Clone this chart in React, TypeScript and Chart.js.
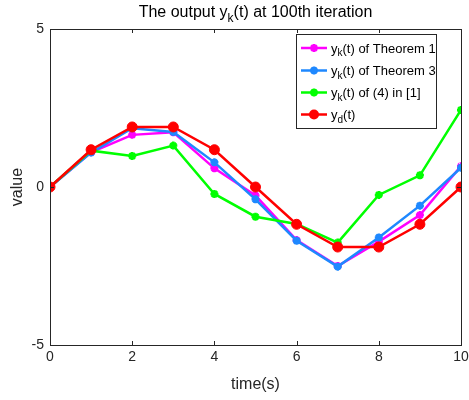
import React, { useEffect, useRef } from "react";
import { Chart, registerables } from "chart.js";
Chart.register(...registerables);

const timeSteps = [0, 1, 2, 3, 4, 5, 6, 7, 8, 9, 10];
const theorem1 = [0, 1.1, 1.65, 1.73, 0.59, -0.27, -1.68, -2.5, -1.73, -0.89, 0.66];
const theorem3 = [0, 1.09, 1.86, 1.74, 0.78, -0.39, -1.7, -2.52, -1.6, -0.59, 0.61];
const method4 = [0, 1.15, 0.98, 1.31, -0.22, -0.94, -1.17, -1.76, -0.25, 0.37, 2.44];
const desired = [0, 1.18, 1.9, 1.9, 1.18, 0, -1.18, -1.9, -1.9, -1.18, 0];
const seriesLabels = ["y_k(t) of Theorem 1", "y_k(t) of Theorem 3", "y_k(t) of (4) in [1]", "y_d(t)"];
const seriesColors = ["#FF00FF", "#1E88FF", "#00FF00", "#FF0000"];
const titleText = "The output y_k(t) at 100th iteration";
const xTitle = "time(s)";
const yTitle = "value";
const xTickValues = [0, 2, 4, 6, 8, 10];
const yTickValues = [-5, 0, 5];

const FONT = "'Liberation Sans', Arial, Helvetica, sans-serif";
const AXIS_COLOR = "#262626";

function parseRich(text: string) {
  const parts: { t: string; sub: boolean }[] = [];
  let i = 0;
  let buf = "";
  while (i < text.length) {
    if (text[i] === "_" && i + 1 < text.length) {
      if (buf) parts.push({ t: buf, sub: false });
      buf = "";
      parts.push({ t: text[i + 1], sub: true });
      i += 2;
    } else {
      buf += text[i];
      i++;
    }
  }
  if (buf) parts.push({ t: buf, sub: false });
  return parts;
}

function drawRich(ctx: CanvasRenderingContext2D, text: string, x: number, y: number, size: number, align: "left" | "center", color: string) {
  const parts = parseRich(text);
  const subSize = Math.round(size * 0.75);
  let total = 0;
  for (const p of parts) {
    ctx.font = `${p.sub ? subSize : size}px ${FONT}`;
    total += ctx.measureText(p.t).width;
  }
  let cx = align === "center" ? x - total / 2 : x;
  ctx.fillStyle = color;
  ctx.textAlign = "left";
  ctx.textBaseline = "alphabetic";
  for (const p of parts) {
    ctx.font = `${p.sub ? subSize : size}px ${FONT}`;
    ctx.fillText(p.t, cx, p.sub ? y + size * 0.3 : y);
    cx += ctx.measureText(p.t).width;
  }
}

function drawStar(ctx: CanvasRenderingContext2D, x: number, y: number, r: number, color: string) {
  ctx.save();
  ctx.strokeStyle = color;
  ctx.lineWidth = 2.5;
  ctx.beginPath();
  ctx.moveTo(x - r, y); ctx.lineTo(x + r, y);
  ctx.moveTo(x, y - r); ctx.lineTo(x, y + r);
  const d = r * 0.707;
  ctx.moveTo(x - d, y - d); ctx.lineTo(x + d, y + d);
  ctx.moveTo(x - d, y + d); ctx.lineTo(x + d, y - d);
  ctx.stroke();
  ctx.restore();
}

const decorPlugin = {
  id: "decor",
  afterDraw(chart: any) {
    const ctx: CanvasRenderingContext2D = chart.ctx;
    const { left, right, top, bottom } = chart.chartArea;
    const xs = chart.scales.x;
    const ys = chart.scales.y;
    ctx.save();
    ctx.strokeStyle = AXIS_COLOR;
    ctx.lineWidth = 1;
    ctx.strokeRect(Math.round(left) + 0.5, Math.round(top) + 0.5, Math.round(right - left), Math.round(bottom - top));
    ctx.beginPath();
    for (const v of xTickValues) {
      const px = Math.round(xs.getPixelForValue(v)) + 0.5;
      ctx.moveTo(px, bottom); ctx.lineTo(px, bottom - 4);
      ctx.moveTo(px, top); ctx.lineTo(px, top + 4);
    }
    for (const v of yTickValues) {
      const py = Math.round(ys.getPixelForValue(v)) + 0.5;
      ctx.moveTo(left, py); ctx.lineTo(left + 4, py);
      ctx.moveTo(right, py); ctx.lineTo(right - 4, py);
    }
    ctx.stroke();
    drawRich(ctx, titleText, (left + right) / 2, 17, 16, "center", "#000");
    ctx.font = `16px ${FONT}`;
    ctx.fillStyle = AXIS_COLOR;
    ctx.textAlign = "center";
    ctx.textBaseline = "middle";
    ctx.fillText(xTitle, (left + right) / 2, 385);
    ctx.save();
    ctx.translate(18, (top + bottom) / 2);
    ctx.rotate(-Math.PI / 2);
    ctx.fillText(yTitle, 0, 0);
    ctx.restore();
    const lx = 296, ly = 34, lw = 140, lh = 94;
    ctx.fillStyle = "#fff";
    ctx.fillRect(lx, ly, lw, lh);
    ctx.strokeStyle = AXIS_COLOR;
    ctx.lineWidth = 1;
    ctx.strokeRect(lx + 0.5, ly + 0.5, lw, lh);
    const rowY = [48, 70.5, 92.5, 114.5];
    seriesLabels.forEach((lab, i) => {
      const y = rowY[i];
      const c = seriesColors[i];
      ctx.strokeStyle = c;
      ctx.lineWidth = 2.5;
      ctx.beginPath();
      ctx.moveTo(301, y); ctx.lineTo(327, y);
      ctx.stroke();
      if (i === 3) {
        ctx.fillStyle = c;
        ctx.beginPath();
        ctx.arc(314, y, 5, 0, Math.PI * 2);
        ctx.fill();
      } else {
        drawStar(ctx, 314, y, 4, c);
      }
      drawRich(ctx, lab, 331, y + 4.5, 13, "left", "#000");
    });
    ctx.restore();
  },
};

export default function App() {
  const ref = useRef<HTMLCanvasElement>(null);
  useEffect(() => {
    if (!ref.current) return;
    const mk = (data: number[], i: number, order: number) => ({
      label: seriesLabels[i].replace("_", ""),
      data: timeSteps.map((t, k) => ({ x: t, y: data[k] })),
      borderColor: seriesColors[i],
      backgroundColor: seriesColors[i],
      borderWidth: 2.5,
      pointStyle: i === 3 ? "circle" : "star",
      pointRadius: i === 3 ? 5 : 4,
      pointBorderWidth: i === 3 ? 1 : 2.5,
      pointBorderColor: seriesColors[i],
      pointBackgroundColor: seriesColors[i],
      tension: 0,
      order,
    });
    const chart = new Chart(ref.current, {
      type: "line",
      data: {
        datasets: [mk(theorem1, 0, 3), mk(theorem3, 1, 2), mk(method4, 2, 1), mk(desired, 3, 0)] as any,
      },
      options: {
        animation: false,
        responsive: false,
        devicePixelRatio: 1,
        layout: { padding: { top: 29, right: 8, left: 0, bottom: 0 } },
        plugins: { legend: { display: false }, title: { display: false }, tooltip: { enabled: false } },
        scales: {
          x: {
            type: "linear",
            min: 0,
            max: 10,
            grid: { display: false, drawTicks: false },
            border: { display: false },
            ticks: { stepSize: 2, color: AXIS_COLOR, font: { family: FONT, size: 14 }, padding: 4, maxRotation: 0 },
            afterFit: (s: any) => { s.height = 55; s.paddingLeft = 0; s.paddingRight = 0; },
          },
          y: {
            type: "linear",
            min: -5,
            max: 5,
            grid: { display: false, drawTicks: false },
            border: { display: false },
            ticks: { stepSize: 5, color: AXIS_COLOR, font: { family: FONT, size: 14 }, padding: 6 },
            afterFit: (s: any) => { s.width = 50; s.paddingTop = 0; s.paddingBottom = 0; },
          },
        },
      },
      plugins: [decorPlugin],
    } as any);
    return () => chart.destroy();
  }, []);
  return (
    <div style={{ position: "absolute", left: 0, top: 0, width: 469, height: 400, background: "#fff" }}>
      <canvas ref={ref} width={469} height={400} />
    </div>
  );
}
